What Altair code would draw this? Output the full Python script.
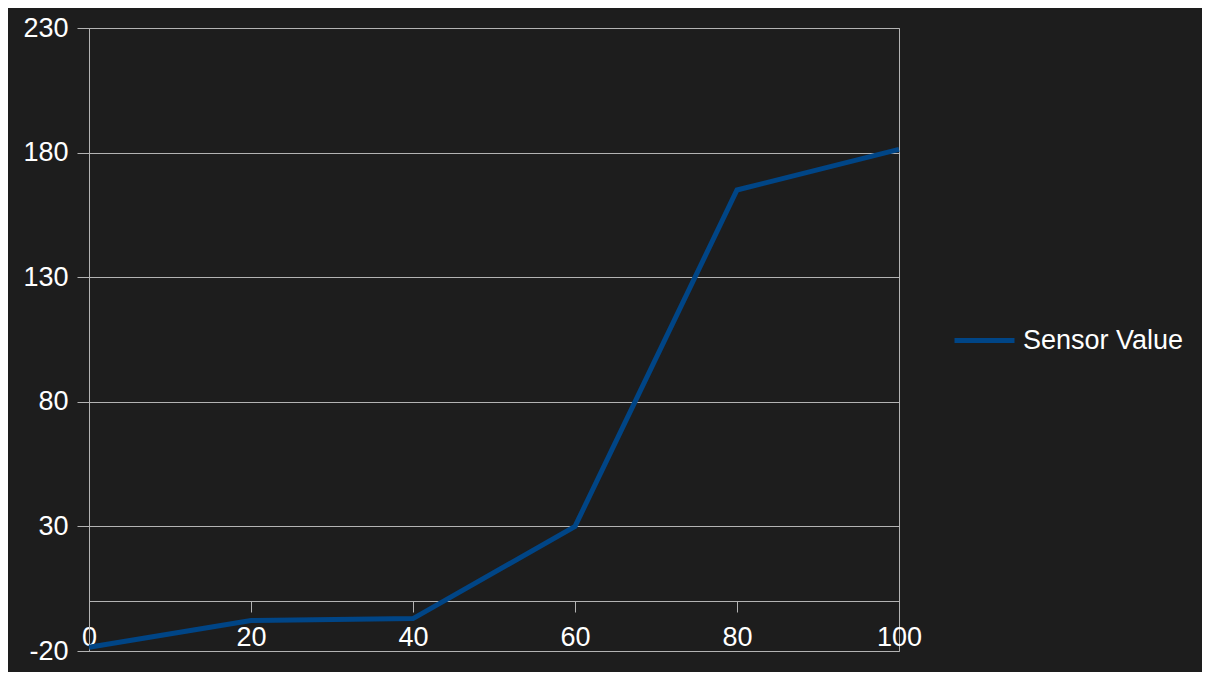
import altair as alt
import pandas as pd

x_vals = [0, 20, 40, 60, 80, 100]
sensor_values = [-18.5, -7.8, -7.0, 30.0, 165.0, 181.3]
series_name = "Sensor Value"
y_ticks = [-20, 30, 80, 130, 180, 230]
x_ticks = [0, 20, 40, 60, 80, 100]

df = pd.DataFrame({"x": x_vals, "value": sensor_values, "series": [series_name] * len(x_vals)})

BG = "#1d1d1d"
GRID = "#b3b3b3"
FONT = "Liberation Sans"
FS = 27

chart = (
    alt.Chart(df)
    .mark_line(strokeWidth=5, strokeJoin="miter", strokeCap="butt", clip=False)
    .encode(
        x=alt.X(
            "x:Q",
            scale=alt.Scale(domain=[0, 100], nice=False, zero=False),
            axis=alt.Axis(
                values=x_ticks,
                title=None,
                grid=False,
                offset=-50,
                domainColor=GRID,
                domainWidth=1,
                tickColor=GRID,
                tickSize=11,
                labelPadding=12,
                labelColor="white",
                labelFont=FONT,
                labelFontSize=FS,
                labelBound=False,
                labelFlush=False,
                labelOverlap=False,
            ),
        ),
        y=alt.Y(
            "value:Q",
            scale=alt.Scale(domain=[-20, 230], nice=False, zero=False),
            axis=alt.Axis(
                values=y_ticks,
                title=None,
                grid=True,
                gridColor=GRID,
                gridWidth=1,
                domainColor=GRID,
                tickColor=GRID,
                tickSize=12,
                labelPadding=9,
                labelColor="white",
                labelFont=FONT,
                labelFontSize=FS,
                labelExpr="toString(datum.value)",
                labelOverlap=False,
                labelBound=False,
                labelFlush=False,
            ),
        ),
        color=alt.Color(
            "series:N",
            scale=alt.Scale(domain=[series_name], range=["#004586"]),
            legend=alt.Legend(
                title=None,
                orient="none",
                legendX=863,
                legendY=280,
                symbolType="stroke",
                symbolSize=3600,
                symbolStrokeWidth=5,
                labelColor="white",
                labelFont=FONT,
                labelFontSize=FS,
                labelOffset=6,
                labelLimit=400,
            ),
        ),
    )
    .properties(
        width=810,
        height=623,
        background=BG,
        padding={"left": 81, "top": 20, "right": 303, "bottom": 21},
        autosize=alt.AutoSizeParams(type="none"),
    )
    .configure_view(stroke=GRID, strokeWidth=1)
)

chart.save("out.html", embed_options={"renderer": "svg", "actions": False})
